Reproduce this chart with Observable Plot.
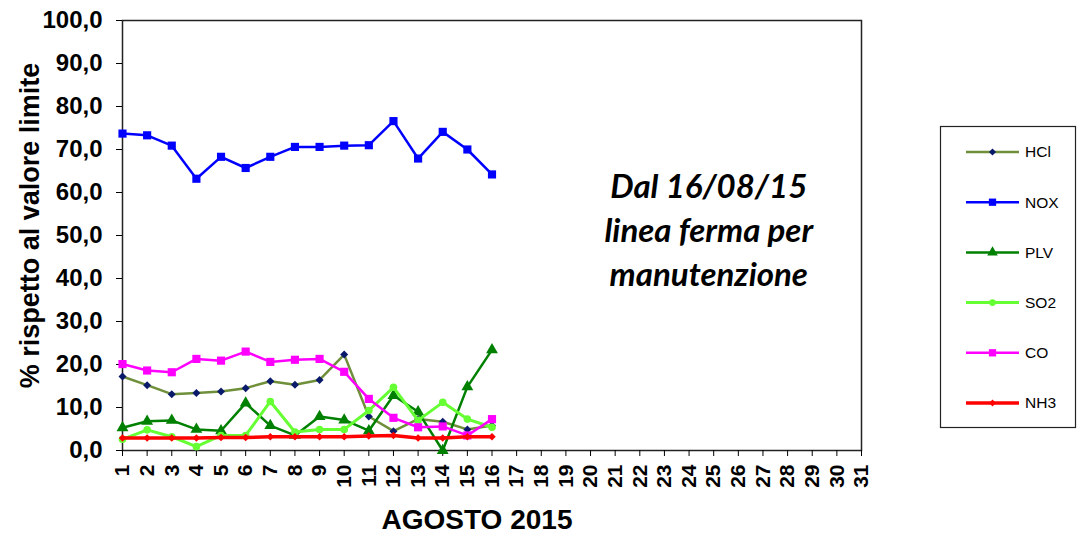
<!DOCTYPE html>
<html>
<head>
<meta charset="utf-8">
<script src="https://cdn.jsdelivr.net/npm/d3@7"></script>
<script src="https://cdn.jsdelivr.net/npm/@observablehq/plot@0.6"></script>
<style>
  html, body { margin: 0; padding: 0; background: #fff; }
  #chart { position: relative; width: 1077px; height: 539px; }
</style>
</head>
<body>
<div id="chart"></div>
<script>
// ---- data ----
const allDays = d3.range(1, 32);               // categories on the x axis (1..31 agosto)
const days = d3.range(1, 17);                  // days with data
const seriesNames = ["HCl", "NOX", "PLV", "SO2", "CO", "NH3"];
const HCl = [17.2, 15.2, 13.1, 13.4, 13.7, 14.5, 16.1, 15.3, 16.4, 22.3, 7.9, 4.5, 7.3, 6.7, 4.9, 5.8];
const NOX = [73.7, 73.3, 70.9, 63.2, 68.3, 65.7, 68.3, 70.6, 70.6, 70.9, 71.0, 76.6, 67.9, 74.1, 70.0, 64.2];
const PLV = [5.3, 6.8, 7.0, 4.9, 4.6, 11.0, 5.8, 3.5, 7.9, 7.1, 4.6, 12.8, 9.0, 0.0, 14.8, 23.4];
const SO2 = [2.6, 4.8, 3.2, 0.9, 3.5, 3.5, 11.4, 4.3, 4.9, 4.9, 9.3, 14.7, 7.0, 11.2, 7.3, 5.4];
const CO  = [20.1, 18.6, 18.2, 21.3, 20.9, 23.0, 20.6, 21.1, 21.3, 18.3, 12.0, 7.6, 5.4, 5.6, 3.5, 7.3];
const NH3 = [2.9, 2.9, 2.9, 2.9, 3.0, 3.0, 3.2, 3.2, 3.2, 3.2, 3.4, 3.5, 2.9, 2.9, 3.2, 3.2];
const yTicks = [0, 10, 20, 30, 40, 50, 60, 70, 80, 90, 100];
const xTitle = "AGOSTO 2015";
const yTitle = "% rispetto al valore limite";
const noteText = "Dal 16/08/15\nlinea ferma per\nmanutenzione";
const noteDay = 24.8;
const noteValue = 51.7;

// ---- styles ----
const styles = {
  HCl: {stroke: "#6f8f3a", fill: "#0a1a6a", symbol: "diamond2", r: 3.6, sw: 2.5},
  NOX: {stroke: "#0000ff", fill: "#0000ff", symbol: "square", r: 4.6, sw: 2.5},
  PLV: {stroke: "#008000", fill: "#008000", symbol: "triangle", r: 4.4, sw: 2.5},
  SO2: {stroke: "#66ff33", fill: "#66ff33", symbol: "circle", r: 3.8, sw: 3},
  CO:  {stroke: "#ff00ff", fill: "#ff00ff", symbol: "square", r: 4.6, sw: 2.5},
  NH3: {stroke: "#ff0000", fill: "#ff0000", symbol: "diamond2", r: 3.4, sw: 3.5}
};
const values = {HCl, NOX, PLV, SO2, CO, NH3};
const table = seriesNames.map(name => days.map((d, i) => ({name, day: d, value: values[name][i]})));

const fmt = v => v.toFixed(1).replace(".", ",");
const font = "'Liberation Sans', Arial, sans-serif";

const marks = [];
table.forEach(rows => {
  const s = styles[rows[0].name];
  marks.push(Plot.line(rows, {x: "day", y: "value", stroke: s.stroke, strokeWidth: s.sw}));
  marks.push(Plot.dot(rows, {x: "day", y: "value", symbol: () => s.symbol, fill: s.fill, stroke: "none", r: s.r}));
});

const plot = Plot.plot({
  width: 1077,
  height: 539,
  marginLeft: 122,
  marginRight: 216,
  marginTop: 20,
  marginBottom: 89,
  style: {fontFamily: font, fontWeight: "bold", color: "#000", background: "#fff"},
  x: {type: "linear", domain: [1, 31]},
  y: {domain: [0, 100]},
  marks: [
    Plot.frame({stroke: "#222", strokeWidth: 1.5}),
    Plot.axisY({ticks: yTicks, tickFormat: fmt, tickSize: 6, tickPadding: 14, fontSize: 24, label: null}),
    Plot.axisX({ticks: allDays, tickFormat: d => String(d), tickSize: 6, tickPadding: 8, tickRotate: -90, fontSize: 21, label: null}),
    ...marks,
    Plot.text([noteText], {x: () => noteDay, y: () => noteValue, text: d => d, fontSize: 33, fontStyle: "italic",
      fontWeight: "bold", fontFamily: "Lato, 'Open Sans', sans-serif", lineHeight: 1.33, fill: "#000"}),
    Plot.text([xTitle], {frameAnchor: "bottom", text: d => d, dy: 78, dx: -15, fontSize: 28, fontWeight: "bold"}),
    Plot.text([yTitle], {frameAnchor: "left", text: d => d, rotate: -90, textAnchor: "middle", dx: -92, dy: -10, fontSize: 27, fontWeight: "bold"})
  ]
});
document.getElementById("chart").appendChild(plot);

// ---- legend (drawn into the same SVG) ----
const svg = d3.select(plot);
const lg = svg.append("g").attr("font-family", font).attr("text-anchor", "start");
lg.append("rect").attr("x", 940.5).attr("y", 126.5).attr("width", 135).attr("height", 301)
  .attr("fill", "#fff").attr("stroke", "#222").attr("stroke-width", 1.2);
const legendY = d3.scalePoint().domain(seriesNames).range([152, 403]);
const symMap = {diamond2: d3.symbolDiamond2, square: d3.symbolSquare, triangle: d3.symbolTriangle, circle: d3.symbolCircle};
seriesNames.forEach(name => {
  const s = styles[name];
  const y = legendY(name);
  lg.append("line").attr("x1", 966).attr("x2", 1019).attr("y1", y).attr("y2", y)
    .attr("stroke", s.stroke).attr("stroke-width", s.sw);
  lg.append("path").attr("transform", `translate(992.5,${y})`)
    .attr("d", d3.symbol(symMap[s.symbol], Math.PI * s.r * s.r * 0.8)())
    .attr("fill", s.fill);
  lg.append("text").attr("x", 1025).attr("y", y).attr("dy", "0.35em")
    .attr("font-size", 15.5).attr("font-weight", "normal").attr("fill", "#000").text(name);
});
</script>
</body>
</html>
